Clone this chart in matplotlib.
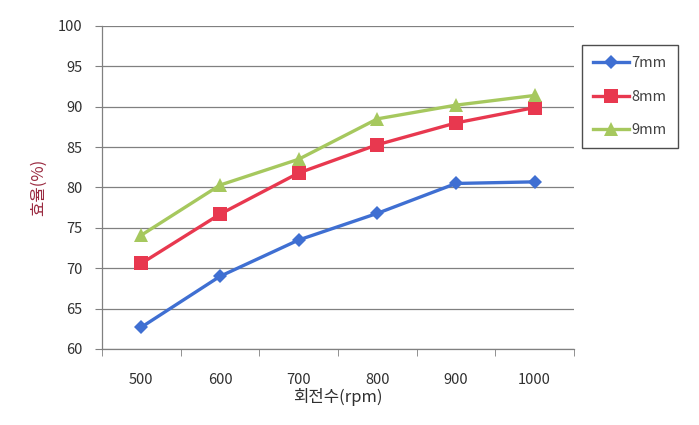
import matplotlib
matplotlib.use("Agg")
import matplotlib.pyplot as plt

plt.rcParams['font.family'] = ['Noto Sans CJK KR', 'DejaVu Sans']

categories = ["500", "600", "700", "800", "900", "1000"]
series_names = ["7mm", "8mm", "9mm"]
eff_7mm = [62.7, 69.0, 73.5, 76.8, 80.5, 80.7]
eff_8mm = [70.6, 76.7, 81.8, 85.3, 88.0, 89.9]
eff_9mm = [74.1, 80.3, 83.5, 88.5, 90.2, 91.4]
y_ticks = [60, 65, 70, 75, 80, 85, 90, 95, 100]

W, H = 699, 425
fig = plt.figure(figsize=(W / 100, H / 100), dpi=100)
fig.patch.set_facecolor("white")
ax = fig.add_axes([102 / W, 1 - 349 / H, (574 - 102) / W, (349 - 26) / H])

x = list(range(len(categories)))
styles = [
    dict(color="#3f6fd2", marker="D", markersize=7),
    dict(color="#e8384f", marker="s", markersize=10),
    dict(color="#a6c85e", marker="^", markersize=10),
]
for vals, name, st in zip([eff_7mm, eff_8mm, eff_9mm], series_names, styles):
    ax.plot(x, vals, label=name, color=st["color"], marker=st["marker"],
            markersize=st["markersize"], linewidth=2.4, markeredgewidth=0,
            zorder=3)

ax.set_xlim(-0.5, len(categories) - 0.5)
ax.set_ylim(60, 100)
ax.set_yticks(y_ticks)
ax.set_xticks(x)
ax.set_xticklabels(categories)
ax.set_xticks([i - 0.5 for i in range(len(categories) + 1)], minor=True)
ax.tick_params(axis="x", which="major", length=0, pad=17, labelsize=10.5,
               labelcolor="#303030")
ax.tick_params(axis="x", which="minor", length=5, direction="out",
               color="#808080")
ax.tick_params(axis="y", length=5, direction="out", color="#808080",
               labelsize=10.5, labelcolor="#303030", pad=9)

ax.grid(axis="y", color="#808080", linewidth=0.9)
ax.set_axisbelow(True)
for s in ["top", "right"]:
    ax.spines[s].set_visible(False)
for s in ["left", "bottom"]:
    ax.spines[s].set_color("#808080")
    ax.spines[s].set_linewidth(0.9)

ax.set_xlabel("회전수(rpm)", fontsize=12, color="#303030", labelpad=1)
ax.set_ylabel("효율(%)", fontsize=12, color="#9a2a40", labelpad=8)

leg = fig.legend(loc="upper left", bbox_to_anchor=(582 / W, 1 - 45 / H),
                 frameon=True, fancybox=False, fontsize=10.5,
                 handlelength=2.5, labelspacing=1.35, borderpad=0.75,
                 handletextpad=0.15, borderaxespad=0)
leg.get_frame().set_edgecolor("#202020")
leg.get_frame().set_linewidth(1.0)
for t in leg.get_texts():
    t.set_color("#404040")

fig.savefig("out.png", dpi=100)
